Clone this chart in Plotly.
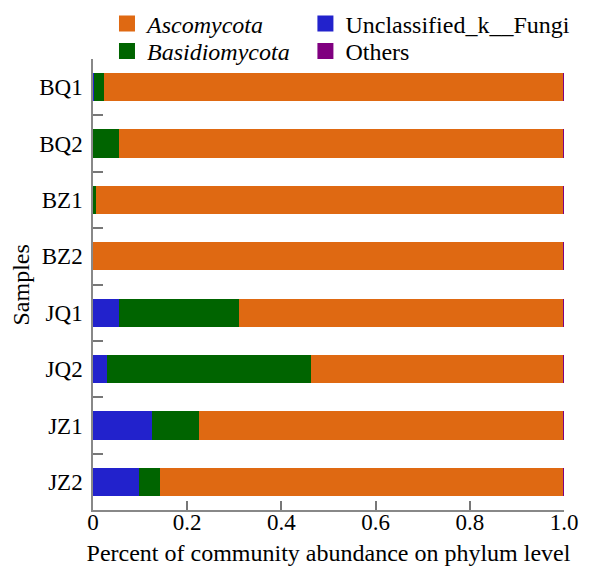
import plotly.graph_objects as go

samples = ["BQ1", "BQ2", "BZ1", "BZ2", "JQ1", "JQ2", "JZ1", "JZ2"]
unclassified = [0.003, 0.001, 0.001, 0.000, 0.055, 0.030, 0.126, 0.097]
basidiomycota = [0.020, 0.055, 0.005, 0.001, 0.254, 0.433, 0.098, 0.046]
others = [0.001, 0.001, 0.001, 0.001, 0.001, 0.001, 0.001, 0.001]
ascomycota = [round(1 - u - b - o, 3) for u, b, o in zip(unclassified, basidiomycota, others)]

colors = {
    "asco": "#DF6912",
    "basid": "#006400",
    "uncl": "#2222CC",
    "others": "#800080",
}

font_family = "Liberation Serif"

fig = go.Figure()
fig.add_trace(go.Bar(y=samples, x=unclassified, orientation="h",
                     marker=dict(color=colors["uncl"], line=dict(width=0)), showlegend=False))
fig.add_trace(go.Bar(y=samples, x=basidiomycota, orientation="h",
                     marker=dict(color=colors["basid"], line=dict(width=0)), showlegend=False))
fig.add_trace(go.Bar(y=samples, x=ascomycota, orientation="h",
                     marker=dict(color=colors["asco"], line=dict(width=0)), showlegend=False))
fig.add_trace(go.Bar(y=samples, x=others, orientation="h",
                     marker=dict(color=colors["others"], line=dict(width=0)), showlegend=False))

# one legend box per entry (2 x 2 grid)
legend_items = [
    ("<i>Ascomycota</i>", colors["asco"], "legend"),
    ("<i>Basidiomycota</i>", colors["basid"], "legend2"),
    ("Unclassified_k__Fungi", colors["uncl"], "legend3"),
    ("Others", colors["others"], "legend4"),
]
for name, c, lg in legend_items:
    fig.add_trace(go.Scatter(x=[None], y=[None], mode="markers", name=name,
                             marker=dict(symbol="square", size=16, color=c),
                             showlegend=True, legend=lg))

leg_common = dict(orientation="v", yanchor="middle", xanchor="left",
                  traceorder="normal", itemsizing="trace",
                  font=dict(size=24, family=font_family),
                  bgcolor="rgba(0,0,0,0)", borderwidth=0, tracegroupgap=0)

col1, col2 = 0.0297, 0.451
row1, row2 = 1.0780, 1.0170

fig.update_layout(
    width=596, height=561,
    margin=dict(l=85, r=40, t=51, b=59, autoexpand=False),
    barmode="stack",
    bargap=0.5,
    plot_bgcolor="white", paper_bgcolor="white",
    font=dict(family=font_family, size=23, color="black"),
    legend=dict(x=col1, y=row1, **leg_common),
    legend2=dict(x=col1, y=row2, **leg_common),
    legend3=dict(x=col2, y=row1, **leg_common),
    legend4=dict(x=col2, y=row2, **leg_common),
    xaxis=dict(range=[0, 1], tickvals=[0, 0.2, 0.4, 0.6, 0.8, 1.0],
               ticktext=["0", "0.2", "0.4", "0.6", "0.8", "1.0"],
               ticks="inside", ticklen=9, tickcolor="#777", tickwidth=1.5,
               ticklabelstandoff=-9,
               showline=True, linecolor="#888", linewidth=1.5,
               showgrid=False, zeroline=False,
               title=dict(text="Percent of community abundance on phylum level", standoff=10,
                          font=dict(family=font_family, size=24)),
               tickfont=dict(size=23, family=font_family)),
    yaxis=dict(categoryorder="array", categoryarray=samples, autorange="reversed",
               ticks="inside", ticklen=10, tickcolor="#777", tickwidth=1.5,
               tickson="boundaries", ticklabelstandoff=4,
               showline=True, linecolor="#888", linewidth=1.5,
               showgrid=False, zeroline=False,
               tickfont=dict(size=23, family=font_family)),
    annotations=[dict(text="Samples", xref="paper", yref="paper", x=-0.1529, y=0.5,
                      textangle=-90, showarrow=False, xanchor="center", yanchor="middle",
                      font=dict(family=font_family, size=24, color="black"))],
)

fig.write_html("out.html")
